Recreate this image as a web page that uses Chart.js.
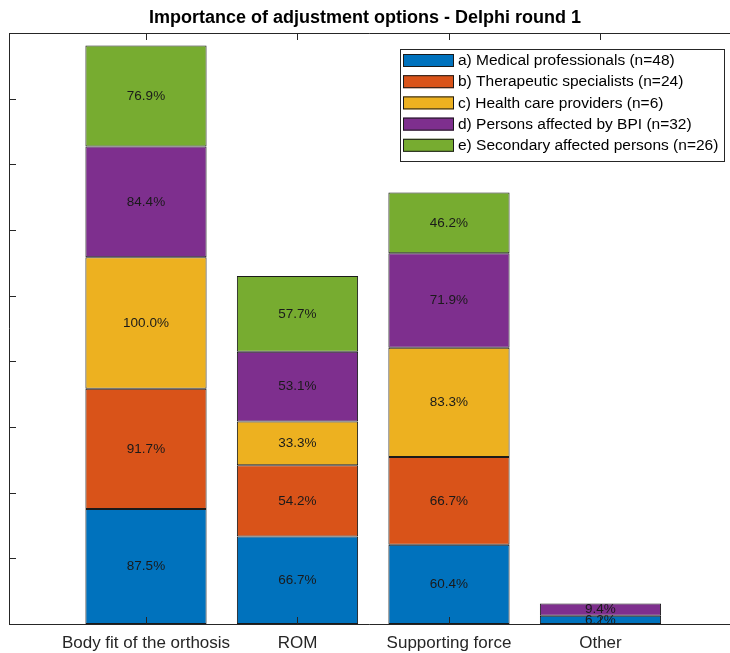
<!DOCTYPE html>
<html>
<head>
<meta charset="utf-8">
<script src="https://cdn.jsdelivr.net/npm/chart.js@4/dist/chart.umd.min.js"></script>
<style>
  html, body { margin: 0; padding: 0; background: #fff; }
  #wrap { width: 730px; height: 653px; position: relative; }
</style>
</head>
<body>
<div id="wrap"><canvas id="c" width="730" height="653"></canvas></div>
<script>
// categorias y datos (porcentajes)
const categories = ['Body fit of the orthosis', 'ROM', 'Supporting force', 'Other'];
const medical    = [87.5, 66.7, 60.4, 6.2];
const therapeut  = [91.7, 54.2, 66.7, 0];
const careProv   = [100.0, 33.3, 83.3, 0];
const affected   = [84.4, 53.1, 71.9, 9.4];
const secondary  = [76.9, 57.7, 46.2, 0];
const yTicks = [0, 50, 100, 150, 200, 250, 300, 350, 400, 450];

const seriesNames = [
  'a) Medical professionals (n=48)',
  'b) Therapeutic specialists (n=24)',
  'c) Health care providers (n=6)',
  'd) Persons affected by BPI (n=32)',
  'e) Secondary affected persons (n=26)'
];
const colores = ['#0072BD', '#D95319', '#EDB120', '#7E2F8E', '#77AC30'];
const fuente = '"Liberation Sans", Arial, sans-serif';

const allSeries = [medical, therapeut, careProv, affected, secondary];

const datasets = allSeries.map((arr, i) => ({
  label: seriesNames[i],
  data: arr.map((v, j) => ({ x: j + 1, y: v === 0 ? null : v })),
  backgroundColor: colores[i],
  borderColor: '#1a1a1a',
  borderWidth: 1,
  borderSkipped: false,
  barPercentage: 0.8,
  categoryPercentage: 1.0
}));

// marco, ticks, titulo y etiquetas estilo MATLAB
const axesMatlab = {
  id: 'axesMatlab',
  afterDraw(chart) {
    const { ctx, chartArea: a, scales } = chart;
    const xs = scales.x, ys = scales.y;
    ctx.save();
    ctx.strokeStyle = '#262626';
    ctx.lineWidth = 1;
    ctx.beginPath();
    ctx.moveTo(a.left + 0.5, a.top + 0.5);
    ctx.lineTo(a.right, a.top + 0.5);
    ctx.moveTo(a.left + 0.5, a.top);
    ctx.lineTo(a.left + 0.5, a.bottom + 0.5);
    ctx.lineTo(a.right, a.bottom + 0.5);
    // ticks del eje y hacia dentro
    yTicks.forEach(t => {
      const py = Math.round(ys.getPixelForValue(t)) + 0.5;
      ctx.moveTo(a.left, py);
      ctx.lineTo(a.left + 7, py);
    });
    // ticks del eje x arriba y abajo
    categories.forEach((c, i) => {
      const px = Math.round(xs.getPixelForValue(i + 1)) + 0.5;
      ctx.moveTo(px, a.bottom);
      ctx.lineTo(px, a.bottom - 7);
      ctx.moveTo(px, a.top);
      ctx.lineTo(px, a.top + 7);
    });
    ctx.stroke();

    // etiquetas de categoria
    ctx.fillStyle = '#262626';
    ctx.font = '17px ' + fuente;
    ctx.textAlign = 'center';
    ctx.textBaseline = 'middle';
    categories.forEach((c, i) => {
      ctx.fillText(c, xs.getPixelForValue(i + 1), a.bottom + 19);
    });

    // titulo
    ctx.fillStyle = '#000';
    ctx.font = 'bold 18px ' + fuente;
    ctx.fillText('Importance of adjustment options - Delphi round 1', 365, 18);

    // porcentajes dentro de cada segmento
    ctx.font = '13.5px ' + fuente;
    ctx.fillStyle = '#1a1a1a';
    chart.data.datasets.forEach((ds, di) => {
      const meta = chart.getDatasetMeta(di);
      meta.data.forEach((el, j) => {
        const v = allSeries[di][j];
        if (!v) return;
        ctx.fillText(v.toFixed(1) + '%', el.x, (el.y + el.base) / 2);
      });
    });

    // leyenda
    const lx = 400, ly = 49, lw = 324, lh = 112;
    ctx.fillStyle = '#fff';
    ctx.fillRect(lx, ly, lw, lh);
    ctx.strokeStyle = '#262626';
    ctx.strokeRect(lx + 0.5, ly + 0.5, lw, lh);
    ctx.font = '15.5px ' + fuente;
    ctx.textAlign = 'left';
    seriesNames.forEach((name, i) => {
      const ry = ly + 5 + i * 21.2;
      ctx.fillStyle = colores[i];
      ctx.fillRect(lx + 3, ry, 51, 13);
      ctx.strokeStyle = '#1a1a1a';
      ctx.strokeRect(lx + 3.5, ry + 0.5, 50, 12);
      ctx.fillStyle = '#000';
      ctx.fillText(name, lx + 58, ry + 7);
    });
    ctx.restore();
  }
};

new Chart(document.getElementById('c'), {
  type: 'bar',
  data: { datasets: datasets },
  options: {
    responsive: false,
    animation: false,
    layout: { padding: { left: 9, top: 33, right: 0, bottom: 29 } },
    plugins: { legend: { display: false }, tooltip: { enabled: false }, title: { display: false } },
    scales: {
      x: {
        type: 'linear', stacked: true, display: false, min: 0.0957, max: 4.855, offset: false,
        // un tick por categoria para que el ancho de barra salga de la separacion 1
        afterBuildTicks: (scale) => { scale.ticks = categories.map((c, i) => ({ value: i + 1 })); }
      },
      y: { stacked: true, display: false, min: 0, max: 450 }
    }
  },
  plugins: [axesMatlab]
});
</script>
</body>
</html>
